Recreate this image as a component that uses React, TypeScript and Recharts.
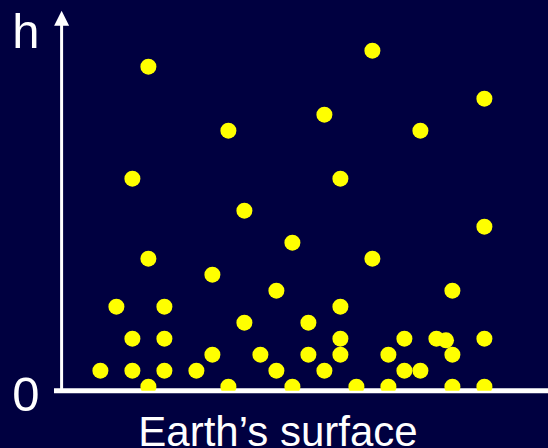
import { ScatterChart, Scatter, XAxis, YAxis, ReferenceLine, ReferenceDot } from 'recharts';

// column position along the surface, and height level of each particle
const columns = [
  0, 1, 2, 2, 2, 3, 3, 3, 4, 4, 4, 6, 7, 7, 8, 8, 9, 9, 10, 11, 11, 12, 12, 13, 13,
  14, 14, 15, 15, 15, 15, 16, 17, 17, 18, 18, 19, 19, 20, 20, 21, 21.6, 22, 22, 22,
  24, 24, 24, 24,
];
const heights = [
  1, 5, 13, 3, 1, 20, 8, 0, 5, 3, 1, 1, 7, 2, 16, 0, 11, 4, 2, 6, 1, 9, 0, 4, 2,
  17, 1, 13, 5, 3, 2, 0, 21, 8, 2, 0, 3, 1, 16, 1, 3, 2.9, 6, 2, 0,
  18, 10, 3, 0,
];
const yLabels = ['0', 'h'];
const xLabel = 'Earth\u2019s surface';

const data = columns.map((x, i) => ({ x, h: heights[i] }));

const BG = '#000040';
const DOT = '#ffff00';
const FONT = '"Liberation Sans", Arial, sans-serif';

export default function App() {
  return (
    <div style={{ position: 'fixed', left: 0, top: 0, width: 548, height: 448, background: BG }}>
      <ScatterChart width={548} height={448} margin={{ top: 10.7, right: 0, bottom: 57.3, left: 62 }}>
        <XAxis type="number" dataKey="x" domain={[-2.4, 27.975]} hide allowDataOverflow />
        <YAxis type="number" dataKey="h" domain={[-0.25, 23.5]} hide allowDataOverflow />
        <ReferenceLine
          segment={[{ x: -2.9, y: -0.25 }, { x: 28, y: -0.25 }]}
          stroke="#ffffff"
          strokeWidth={5}
          ifOverflow="visible"
        />
        <ReferenceLine
          segment={[{ x: -2.425, y: -0.25 }, { x: -2.425, y: 22.6 }]}
          stroke="#ffffff"
          strokeWidth={3}
          ifOverflow="visible"
        />
        <ReferenceDot
          x={-2.425}
          y={23.5}
          ifOverflow="visible"
          shape={(p: any) => (
            <polygon
              points={`${p.cx},${p.cy} ${p.cx - 7.5},${p.cy + 15} ${p.cx + 7.5},${p.cy + 15}`}
              fill="#ffffff"
            />
          )}
        />
        <Scatter
          data={data}
          isAnimationActive={false}
          shape={(p: any) => <circle cx={p.cx} cy={p.cy} r={8} fill={DOT} />}
        />
        <text x={26} y={411} textAnchor="middle" fill="#ffffff" fontSize={49} fontFamily={FONT}>
          {yLabels[0]}
        </text>
        <text x={26} y={48} textAnchor="middle" fill="#ffffff" fontSize={49} fontFamily={FONT}>
          {yLabels[1]}
        </text>
        <text x={278} y={446} textAnchor="middle" fill="#ffffff" fontSize={42} fontFamily={FONT}>
          {xLabel}
        </text>
      </ScatterChart>
    </div>
  );
}
